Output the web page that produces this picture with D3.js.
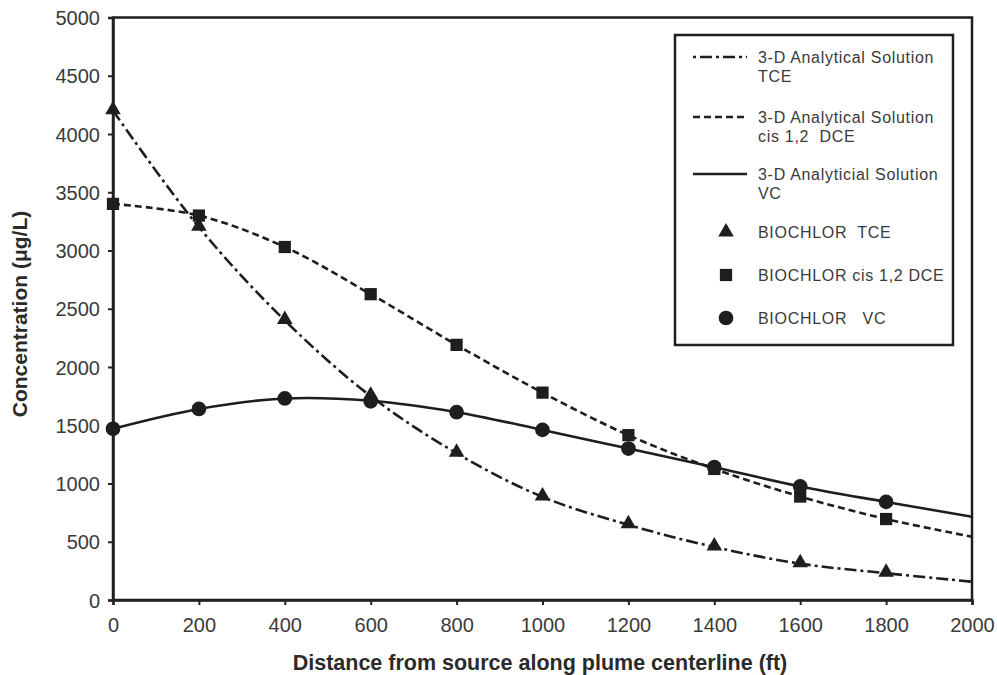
<!DOCTYPE html>
<html>
<head>
<meta charset="utf-8">
<script src="https://cdn.jsdelivr.net/npm/d3@7"></script>
<style>
  body { margin: 0; background: #fff; }
  svg { display: block; }
  .tick text { font-family: "Liberation Sans", Arial, sans-serif; font-size: 20px; fill: #3a3a3a; }
  .axis path, .axis line { stroke: #222; }
</style>
</head>
<body>
<div class="render"></div>
<script>
// distances along plume centerline (ft)
var distances = [0, 200, 400, 600, 800, 1000, 1200, 1400, 1600, 1800, 2000];
// 3-D analytical solution curves (ug/L)
var tceCurve = [4200, 3200, 2400, 1750, 1260, 885, 645, 455, 312, 230, 157];
var dceCurve = [3400, 3300, 3030, 2625, 2190, 1780, 1415, 1125, 888, 695, 543];
var vcCurve = [1470, 1640, 1730, 1710, 1612, 1460, 1300, 1140, 975, 842, 714];
// BIOCHLOR points
var bioDistances = [0, 200, 400, 600, 800, 1000, 1200, 1400, 1600, 1800];
var bioTce = [4200, 3200, 2400, 1750, 1260, 885, 645, 455, 312, 230];
var bioDce = [3400, 3300, 3030, 2625, 2190, 1780, 1415, 1125, 888, 695];
var bioVc = [1470, 1640, 1730, 1705, 1612, 1460, 1300, 1140, 975, 842];
var xTicks = [0, 200, 400, 600, 800, 1000, 1200, 1400, 1600, 1800, 2000];
var yTicks = [0, 500, 1000, 1500, 2000, 2500, 3000, 3500, 4000, 4500, 5000];

var w = 997, h = 675;
var plotLeft = 113, plotRight = 972, plotTop = 17.5, plotBottom = 600;
var font = '"Liberation Sans", Arial, sans-serif';
var ink = '#1e1e1e';

var svg = d3.select('.render').append('svg').attr('width', w).attr('height', h);

var x = d3.scaleLinear().domain([0, 2000]).range([plotLeft, plotRight]);
var y = d3.scaleLinear().domain([0, 5000]).range([plotBottom, plotTop]);

// frame
svg.append('rect').attr('x', plotLeft).attr('y', plotTop)
   .attr('width', plotRight - plotLeft).attr('height', plotBottom - plotTop)
   .attr('fill', 'none').attr('stroke', ink).attr('stroke-width', 2.5);

var xAxis = d3.axisBottom(x).tickValues(xTicks).tickSize(5).tickPadding(13).tickFormat(d3.format('d'));
var yAxis = d3.axisLeft(y).tickValues(yTicks).tickSize(5).tickPadding(8).tickFormat(d3.format('d'));
var gx = svg.append('g').attr('class', 'axis').attr('transform', 'translate(0,' + plotBottom + ')').call(xAxis);
var gy = svg.append('g').attr('class', 'axis').attr('transform', 'translate(' + plotLeft + ',0)').call(yAxis);
gx.select('.domain').attr('stroke-width', 2.5);
gy.select('.domain').attr('stroke-width', 2.5);
gx.selectAll('.tick line').attr('stroke-width', 2);
gy.selectAll('.tick line').attr('stroke-width', 2);
gy.selectAll('.tick text').attr('dy', '0.36em');

// axis titles
svg.append('text').text('Distance from source along plume centerline (ft)')
   .attr('x', 540).attr('y', 670).attr('text-anchor', 'middle')
   .style('font-family', font).style('font-size', '21.5px').style('font-weight', 'bold').style('fill', '#2a2a2a');
svg.append('text').text('Concentration (\u03bcg/L)')
   .attr('transform', 'translate(27,314)rotate(-90)').attr('text-anchor', 'middle')
   .style('font-family', font).style('font-size', '21px').style('font-weight', 'bold').style('fill', '#2a2a2a');

// curves
var line = d3.line().x(function (d) { return x(d[0]); }).y(function (d) { return y(d[1]); })
   .curve(d3.curveCatmullRom.alpha(0.5));
var series = [
   { vals: tceCurve, dash: '12,4,3,4' },
   { vals: dceCurve, dash: '7,4' },
   { vals: vcCurve, dash: null }
];
series.forEach(function (s) {
   svg.append('path').datum(d3.zip(distances, s.vals)).attr('d', line)
      .attr('fill', 'none').attr('stroke', ink).attr('stroke-width', 2.6)
      .attr('stroke-dasharray', s.dash);
});

// markers
var tri = d3.symbol().type(d3.symbolTriangle).size(105);
var sq = d3.symbol().type(d3.symbolSquare).size(150);
var circ = d3.symbol().type(d3.symbolCircle).size(170);
function markers(vals, sym, dy) {
   svg.append('g').selectAll('path').data(d3.zip(bioDistances, vals)).enter().append('path')
      .attr('d', sym)
      .attr('transform', function (d) { return 'translate(' + x(d[0]) + ',' + (y(d[1]) + dy) + ')'; })
      .attr('fill', ink);
}
markers(bioDce, sq, 0);
markers(bioVc, circ, 0);
markers(bioTce, tri, -1);

// legend
var lg = svg.append('g');
lg.append('rect').attr('x', 675).attr('y', 35).attr('width', 278).attr('height', 310)
   .attr('fill', '#fff').attr('stroke', ink).attr('stroke-width', 2.5);
var legendLines = [
   { dash: '3,4,12,4', y: 57, text: ['3-D Analytical Solution', 'TCE'] },
   { dash: '7,4', y: 117, text: ['3-D Analytical Solution', 'cis 1,2  DCE'] },
   { dash: null, y: 174, text: ['3-D Analyticial Solution', 'VC'] }
];
function legendText(t, yy) {
   lg.append('text').text(t).attr('x', 758).attr('y', yy).attr('dy', '0.35em')
      .style('font-family', font).style('font-size', '16px').style('letter-spacing', '0.7px')
      .style('fill', '#3a3a3a').style('white-space', 'pre');
}
legendLines.forEach(function (l) {
   lg.append('line').attr('x1', 693).attr('x2', 747).attr('y1', l.y).attr('y2', l.y)
      .attr('stroke', ink).attr('stroke-width', 2.6).attr('stroke-dasharray', l.dash);
   l.text.forEach(function (t, i) { legendText(t, l.y + i * 19); });
});
var legendMarks = [
   { sym: tri, y: 232, text: 'BIOCHLOR  TCE' },
   { sym: sq, y: 275, text: 'BIOCHLOR cis 1,2 DCE' },
   { sym: circ, y: 318, text: 'BIOCHLOR   VC' }
];
legendMarks.forEach(function (m) {
   lg.append('path').attr('d', m.sym).attr('transform', 'translate(726,' + m.y + ')').attr('fill', ink);
   legendText(m.text, m.y);
});
</script>
</body>
</html>
